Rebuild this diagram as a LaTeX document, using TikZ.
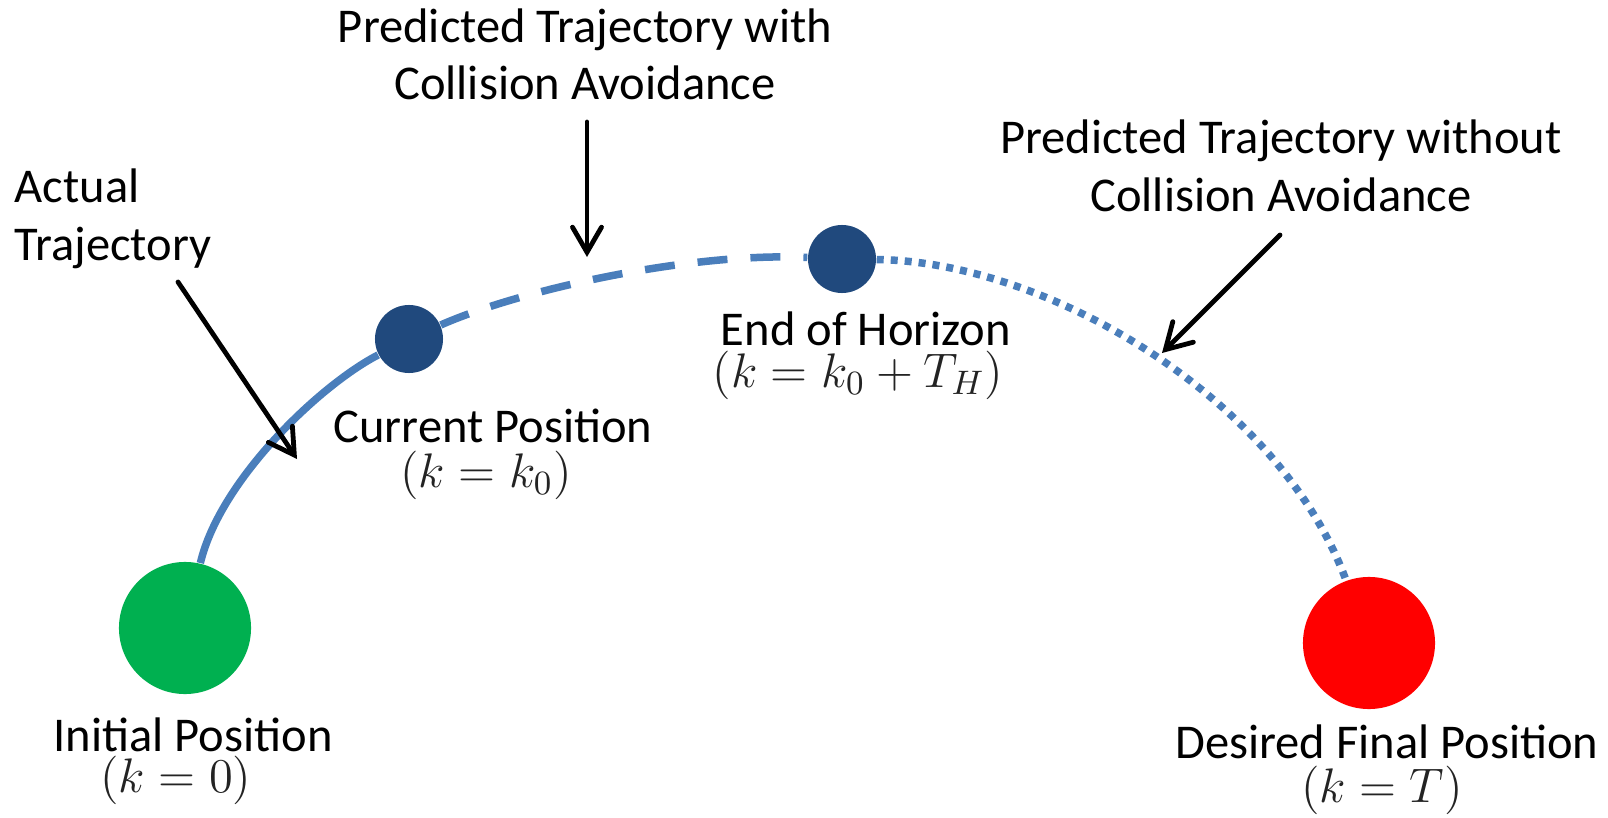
\documentclass[tikz,border=0pt]{standalone}
\usepackage{fix-cm}
\usepackage[no-math]{fontspec}
\setmainfont{Carlito}
\usepackage{tikz}
\usetikzlibrary{arrows.meta,positioning}
\definecolor{trajblue}{RGB}{74,126,187}
\definecolor{waypblue}{RGB}{32,73,125}
\definecolor{startgreen}{RGB}{0,176,80}
\definecolor{goalred}{RGB}{255,0,0}
\definecolor{mathgray}{RGB}{35,35,35}

\begin{document}
\begin{tikzpicture}[x=0.01cm, y=-0.01cm]
    \tikzstyle{waypt}=[circle, fill=waypblue, minimum size=0.68cm, inner sep=0pt]
    \tikzstyle{endpt}=[circle, minimum size=1.32cm, inner sep=0pt]
    \tikzstyle{lbl}=[font=\fontsize{13.8}{16.4}\selectfont, inner sep=0pt, anchor=base, align=center]
    \tikzstyle{ptlbl}=[lbl, text depth=0pt]
    \tikzstyle{mlbl}=[lbl, text=mathgray]
    \tikzstyle{traj}=[draw=trajblue, line width=0.075cm]
    \tikzstyle{pointer}=[draw=black, line width=0.048cm, line cap=round, -{Straight Barb[length=2.5mm, width=2.9mm, line cap=round]}]
    \useasboundingbox (0,0) rectangle (1608,818);
    % Start, goal and the two waypoints
    \node[endpt, fill=startgreen] (init) at (185,628) {};
    \node[endpt, fill=goalred] (goal) at (1369,643) {};
    \node[waypt] (cur) at (409,339) {};
    \node[waypt] (hor) at (842,259) {};
    % Trajectory pieces
    \draw[traj] (init) .. controls (220,480) and (320,385) .. (cur);
    \draw[traj, dash pattern=on 0.3cm off 0.23cm] (cur) .. controls (520,290) and (690,252) .. (hor);
    \draw[traj, dash pattern=on 0.07cm off 0.07cm] (hor) .. controls (1050,262) and (1280,400) .. (goal);
    % Labels under the points
    \node[ptlbl] (initlbl) at (193,751) {Initial Position};
    \node[mlbl] (initk) at (176,792) {$(k=0)$};
    \node[ptlbl] (curlbl) at (493,442) {Current Position};
    \node[mlbl] (curk) at (486,487) {$(k=k_0)$};
    \node[ptlbl] (horlbl) at (866,345) {End of Horizon};
    \node[mlbl] (hork) at (858,387) {$(k=k_0+T_H)$};
    \node[ptlbl] (goallbl) at (1387,758) {Desired Final Position};
    \node[mlbl] (goalk) at (1382,802) {$(k=T)$};
    % Callouts
    \node[lbl, anchor=base west, align=left] (actual) at (14,260) {Actual\\Trajectory};
    \node[lbl] (pwith) at (585,100) {Predicted Trajectory with\\Collision Avoidance};
    \node[lbl] (pwo) at (1281,211) {Predicted Trajectory without\\Collision Avoidance};
    \coordinate (actualtail) at (178,282);
    \coordinate (actualtip) at (297,459);
    \coordinate (pwithtail) at (587,122);
    \coordinate (pwithtip) at (587,257);
    \coordinate (pwotail) at (1280,235);
    \coordinate (pwotip) at (1162,353);
    \draw[pointer] (actualtail) -- (actualtip);
    \draw[pointer] (pwithtail) -- (pwithtip);
    \draw[pointer] (pwotail) -- (pwotip);
\end{tikzpicture}
\end{document}
